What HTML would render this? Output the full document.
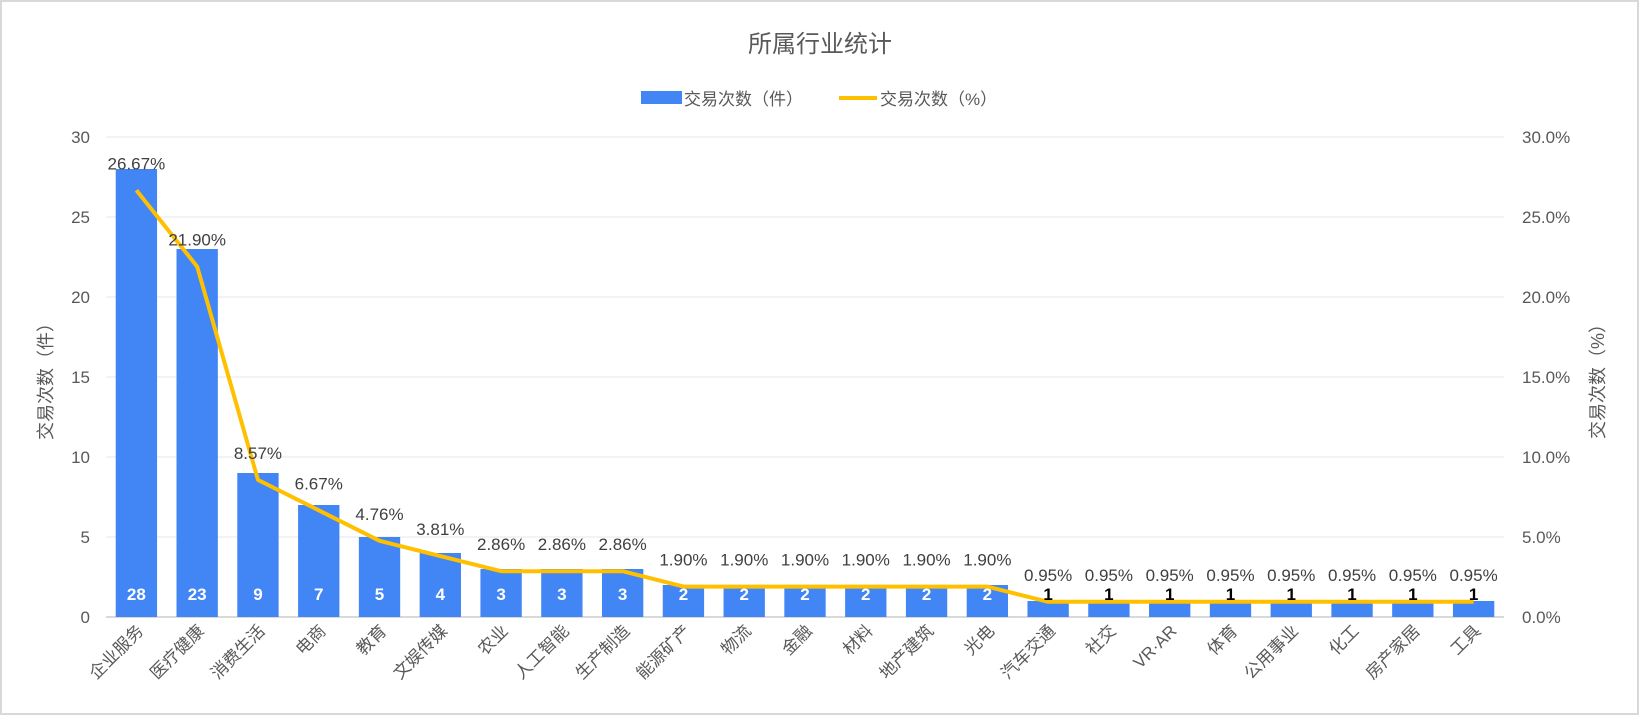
<!DOCTYPE html>
<html><head><meta charset="utf-8"><style>
body{margin:0;background:#fff}
svg{display:block;font-family:"Liberation Sans","Noto Sans CJK SC",sans-serif}
</style></head><body>
<svg id="chart" width="1640" height="716">
<rect x="1" y="1" width="1637" height="713" fill="#fff" stroke="#d9d9d9" stroke-width="2"/>
<text x="820" y="52" text-anchor="middle" font-size="24" fill="#595959">所属行业统计</text>
<g>
<rect x="641" y="91" width="41" height="13" fill="#4285F4"/>
<text x="684" y="105" font-size="17" fill="#595959">交易次数（件）</text>
<line x1="839" y1="98" x2="877" y2="98" stroke="#FFC000" stroke-width="4"/>
<text x="880" y="105" font-size="17" fill="#595959">交易次数（%）</text>
</g>
<text transform="translate(52,377) rotate(-90)" text-anchor="middle" font-size="18" fill="#595959">交易次数（件）</text>
<text transform="translate(1604,377) rotate(-90)" text-anchor="middle" font-size="18" fill="#595959">交易次数（%）</text>
<g id="grid"></g><g id="bars"></g><g id="line"></g><g id="labels"></g>
</svg>
<script>
const categories=["企业服务","医疗健康","消费生活","电商","教育","文娱传媒","农业","人工智能","生产制造","能源矿产","物流","金融","材料","地产建筑","光电","汽车交通","社交","VR·AR","体育","公用事业","化工","房产家居","工具","硬件"].slice(0,23);
const counts=[28,23,9,7,5,4,3,3,3,2,2,2,2,2,2,1,1,1,1,1,1,1,1];
const percents=[26.67,21.90,8.57,6.67,4.76,3.81,2.86,2.86,2.86,1.90,1.90,1.90,1.90,1.90,1.90,0.95,0.95,0.95,0.95,0.95,0.95,0.95,0.95];
const leftTicks=[0,5,10,15,20,25,30];
const rightTicks=["0.0%","5.0%","10.0%","15.0%","20.0%","25.0%","30.0%"];
</script>
<script>
const cats=["企业服务","医疗健康","消费生活","电商","教育","文娱传媒","农业","人工智能","生产制造","能源矿产","物流","金融","材料","地产建筑","光电","汽车交通","社交","VR·AR","体育","公用事业","化工","房产家居","工具","硬件"];
const NS="http://www.w3.org/2000/svg";
const X0=106,X1=1504,Y0=617,YT=137,MAX=30;
const n=counts.length, bw=(X1-X0)/n;
const y=v=>Y0-(v/MAX)*(Y0-YT);
const cx=i=>X0+bw*(i+0.5);
function mk(tag,attrs,parent){const e=document.createElementNS(NS,tag);for(const k in attrs)e.setAttribute(k,attrs[k]);parent.appendChild(e);return e;}
const grid=document.getElementById('grid'),bars=document.getElementById('bars'),line=document.getElementById('line'),labels=document.getElementById('labels');
leftTicks.forEach((t,i)=>{
 const g=mk('line',{x1:X0,x2:X1,y1:y(t),y2:y(t),stroke:t===0?'#d9d9d9':'#efefef','stroke-width':t===0?2:1.5},grid);
 
 
 const a=mk('text',{x:90,y:y(t)+6,'text-anchor':'end','font-size':17,fill:'#595959'},grid);a.textContent=t;
 
 
 const b=mk('text',{x:1522,y:y(t)+6,'font-size':17,fill:'#595959'},grid);b.textContent=rightTicks[i];
 
 
});
counts.forEach((v,i)=>{
 const r=mk('rect',{x:cx(i)-bw*0.34,y:y(v),width:bw*0.68,height:Y0-y(v),fill:'#4285F4'},bars);
 
 
 const l=mk('text',{x:cx(i)+8,y:632,'text-anchor':'end','font-size':17,fill:'#595959',transform:`rotate(-45 ${cx(i)+8} 632)`},labels);
 l.textContent=cats[i];
 
 
});
const pts=percents.map((p,i)=>cx(i)+','+y(p)).join(' ');
const pl=mk('polyline',{points:pts,fill:'none',stroke:'#FFC000','stroke-width':4,'stroke-linejoin':'round'},line);


counts.forEach((v,i)=>{
 const tall=(Y0-y(v))>22;
 const t=mk('text',{x:cx(i),y:600,'text-anchor':'middle','font-size':17,'font-weight':'bold',fill:tall?'#fff':'#000'},labels);
 t.textContent=v;
 
 
 const p=mk('text',{x:cx(i),y:y(percents[i])-21,'text-anchor':'middle','font-size':17,fill:'#404040'},labels);
 p.textContent=percents[i].toFixed(2)+'%';
 
 
});
</script>
</body></html>
